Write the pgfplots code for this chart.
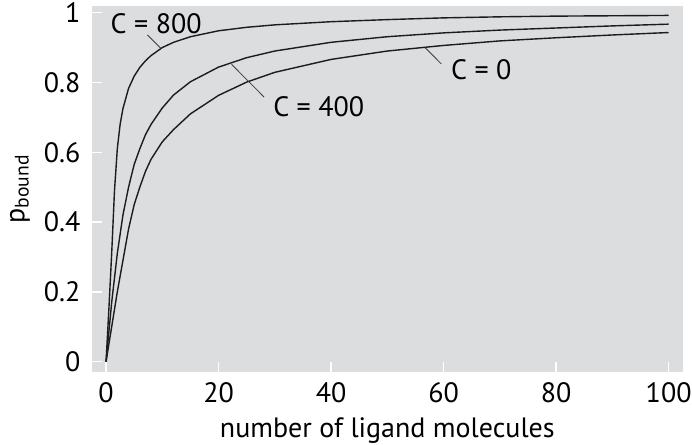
\documentclass[border=0pt]{standalone}
\usepackage{fontspec}
\setmainfont{PT Sans}
\usepackage{pgfplots}
\usepackage{pgfplotstable}
\pgfplotsset{compat=1.18}

\definecolor{panel}{RGB}{220,221,223}
\definecolor{curve}{RGB}{28,28,28}
\definecolor{leader}{RGB}{60,60,60}

\newcommand{\labelfont}{\fontsize{14}{16}\selectfont}

% binding probability versus number of ligands, one table per value of C
\pgfplotstableread{
L p
0 0
1 0.10
2 0.20
3 0.29
4 0.38
5 0.45
6 0.50
7 0.545
8 0.58
10 0.63
12 0.665
15 0.71
20 0.763
25 0.801
30 0.829
40 0.866
50 0.890
60 0.906
70 0.919
80 0.928
90 0.936
100 0.943
}\curveCzero

\pgfplotstableread{
L p
0 0
1 0.17
2 0.31
3 0.42
4 0.50
5 0.565
6 0.61
7 0.65
8 0.68
10 0.727
12 0.764
15 0.802
20 0.844
25 0.871
30 0.890
40 0.915
50 0.931
60 0.942
70 0.950
80 0.956
90 0.962
100 0.967
}\curveCfourhundred

\pgfplotstableread{
L p
0 0
0.5 0.15
1 0.31
1.5 0.49
2 0.61
2.5 0.68
3 0.725
4 0.783
5 0.818
6 0.843
7 0.862
8 0.877
10 0.90
12 0.915
15 0.931
20 0.948
25 0.958
30 0.965
40 0.974
50 0.980
60 0.985
70 0.988
80 0.990
90 0.991
100 0.992
}\curveCeighthundred

\begin{document}
\labelfont
\begin{tikzpicture}
\begin{axis}[
  name=main,
  scale only axis,
  width=295.35pt, height=182.85pt,
  xmin=-2.5, xmax=102.5,
  ymin=-0.0287, ymax=1.019,
  axis background/.style={fill=panel},
  axis line style={draw=none},
  xtick={0,20,40,60,80,100},
  ytick={0,0.2,0.4,0.6,0.8,1},
  yticklabels={0,0.2,0.4,0.6,0.8,1},
  xtick pos=bottom, ytick pos=left,
  tick align=inside,
  major tick length=5pt,
  tick style={white, line width=0.7pt},
  /pgf/number format/assume math mode=true,
  every tick label/.append style={font=\labelfont},
  xticklabel style={yshift=-0.5pt},
  yticklabel style={xshift=-1pt},
  xlabel={number of ligand molecules},
  ylabel={p\textsubscript{bound}},
  every axis x label/.style={at={(axis description cs:0.5,-0.160)}, anchor=center, font=\labelfont},
  every axis y label/.style={at={(axis description cs:-0.122,0.5)}, anchor=center, rotate=90, font=\labelfont},
  clip=false,
]
\addplot[curve, line width=0.7pt, line join=round] table[x=L, y=p] {\curveCzero};
\addplot[curve, line width=0.7pt, line join=round] table[x=L, y=p] {\curveCfourhundred};
\addplot[curve, line width=0.7pt, line join=round] table[x=L, y=p] {\curveCeighthundred};

% curve labels with leader lines
\draw[leader, line width=0.4pt] (axis cs:7.35,0.936) -- (axis cs:9.78,0.897);
\node[font=\labelfont] at (axis cs:8.9,0.968) {C = 800};
\draw[leader, line width=0.4pt] (axis cs:22.3,0.852) -- (axis cs:28.1,0.758);
\node[font=\labelfont] at (axis cs:37.8,0.731) {C = 400};
\draw[leader, line width=0.4pt] (axis cs:56.7,0.900) -- (axis cs:59.6,0.853);
\node[font=\labelfont] at (axis cs:66.7,0.837) {C = 0};
\end{axis}
\pgfresetboundingbox
\path[use as bounding box] ([xshift=-46pt,yshift=-36.65pt]main.south west) rectangle ++(346pt,222.5pt);
\end{tikzpicture}
\end{document}
